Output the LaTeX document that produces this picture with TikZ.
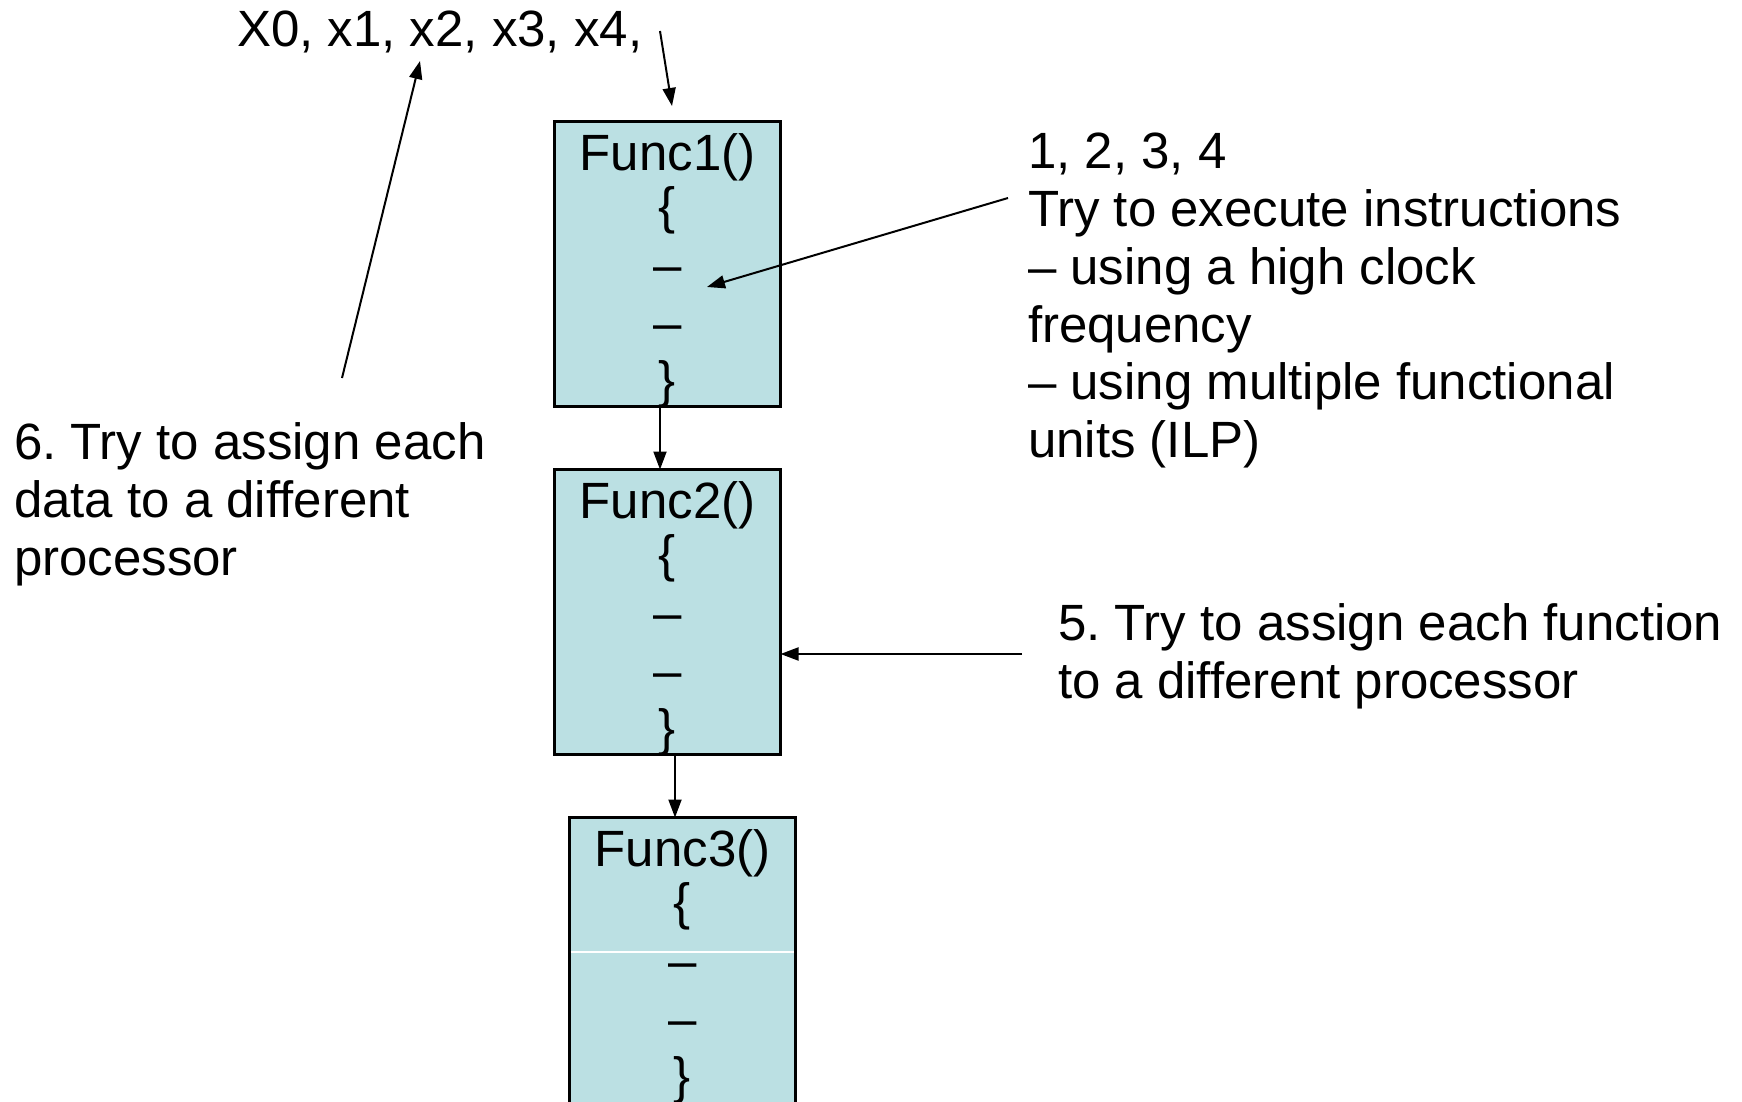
\documentclass[tikz,border=0pt]{standalone}
\usepackage{fontspec}
\setmainfont{Liberation Sans}
\usetikzlibrary{arrows.meta,calc}
\definecolor{boxcol}{RGB}{187,224,227}
\begin{document}
\frenchspacing
\begin{tikzpicture}[x=0.5pt,y=-0.5pt,
  every node/.style={font=\fontsize{25.5pt}{28.9pt}\selectfont, inner sep=0pt, outer sep=0pt},
  fbox/.style={draw=black, line width=1.2pt, fill=boxcol, minimum width=113pt, minimum height=142.5pt, anchor=north west},
  btext/.style={align=center, anchor=north},
  lbl/.style={align=left, anchor=north west},
  arr/.style={-{Triangle[length=9pt,width=6.5pt]}, line width=1pt}]
\useasboundingbox (0,0) rectangle (1742,1102);
\newcommand{\dsh}{\raisebox{0.07em}{–}}
\newcommand{\obr}{\raisebox{0.1em}{\{}}
\newcommand{\cbr}{\raisebox{0.1em}{\}}}
% boxes
\node[fbox] (f1) at (554.5,121.5) {};
\node[fbox] (f2) at (554.5,469.5) {};
\node[fbox, minimum height=146pt] (f3) at (569.5,817.5) {};
\coordinate (w3) at (0,952);
\draw[white, line width=0.6pt] ([xshift=0.7pt]f3.west |- w3) -- ([xshift=-0.7pt]f3.east |- w3);
% box texts
\node[btext] (t1) at (667.5,134) {Func1()\\\obr\\\dsh\\\dsh\\\cbr};
\node[btext] (t2) at (667.5,482) {Func2()\\\obr\\\dsh\\\dsh\\\cbr};
\node[btext] (t3) at (682.5,830) {Func3()\\\obr\\\dsh\\\dsh\\\cbr};
% labels
\node[anchor=base west] (xs) at (237,47) {X0, x1, x2, x3, x4,};
\node[lbl] (r1) at (1028,133) {1, 2, 3, 4\\Try to execute instructions\\– using a high clock\\frequency\\– using multiple functional\\units (ILP)};
\node[lbl] (l6) at (14,423) {6. Try to assign each\\data to a different\\processor};
\node[lbl] (r5) at (1058,604) {5. Try to assign each function\\to a different processor};
% connectors
\coordinate (a1s) at (660,31);
\coordinate (a1e) at (672,106);
\draw[arr] (a1s) -- (a1e);
\coordinate (a6s) at (342,378);
\coordinate (a6e) at (420,61);
\draw[arr] (a6s) -- (a6e);
\coordinate (a4s) at (1008,198);
\coordinate (a4e) at (707,287);
\draw[arr] (a4s) -- (a4e);
\coordinate (a5s) at (1022,654);
\draw[arr] (a5s) -- (a5s -| f2.east);
\draw[arr] ([xshift=-3.75pt]f1.south) -- ([xshift=-3.75pt]f2.north);
\draw[arr] ([xshift=3.75pt]f2.south) -- ([xshift=3.75pt]f2.south |- f3.north);
\end{tikzpicture}
\end{document}
